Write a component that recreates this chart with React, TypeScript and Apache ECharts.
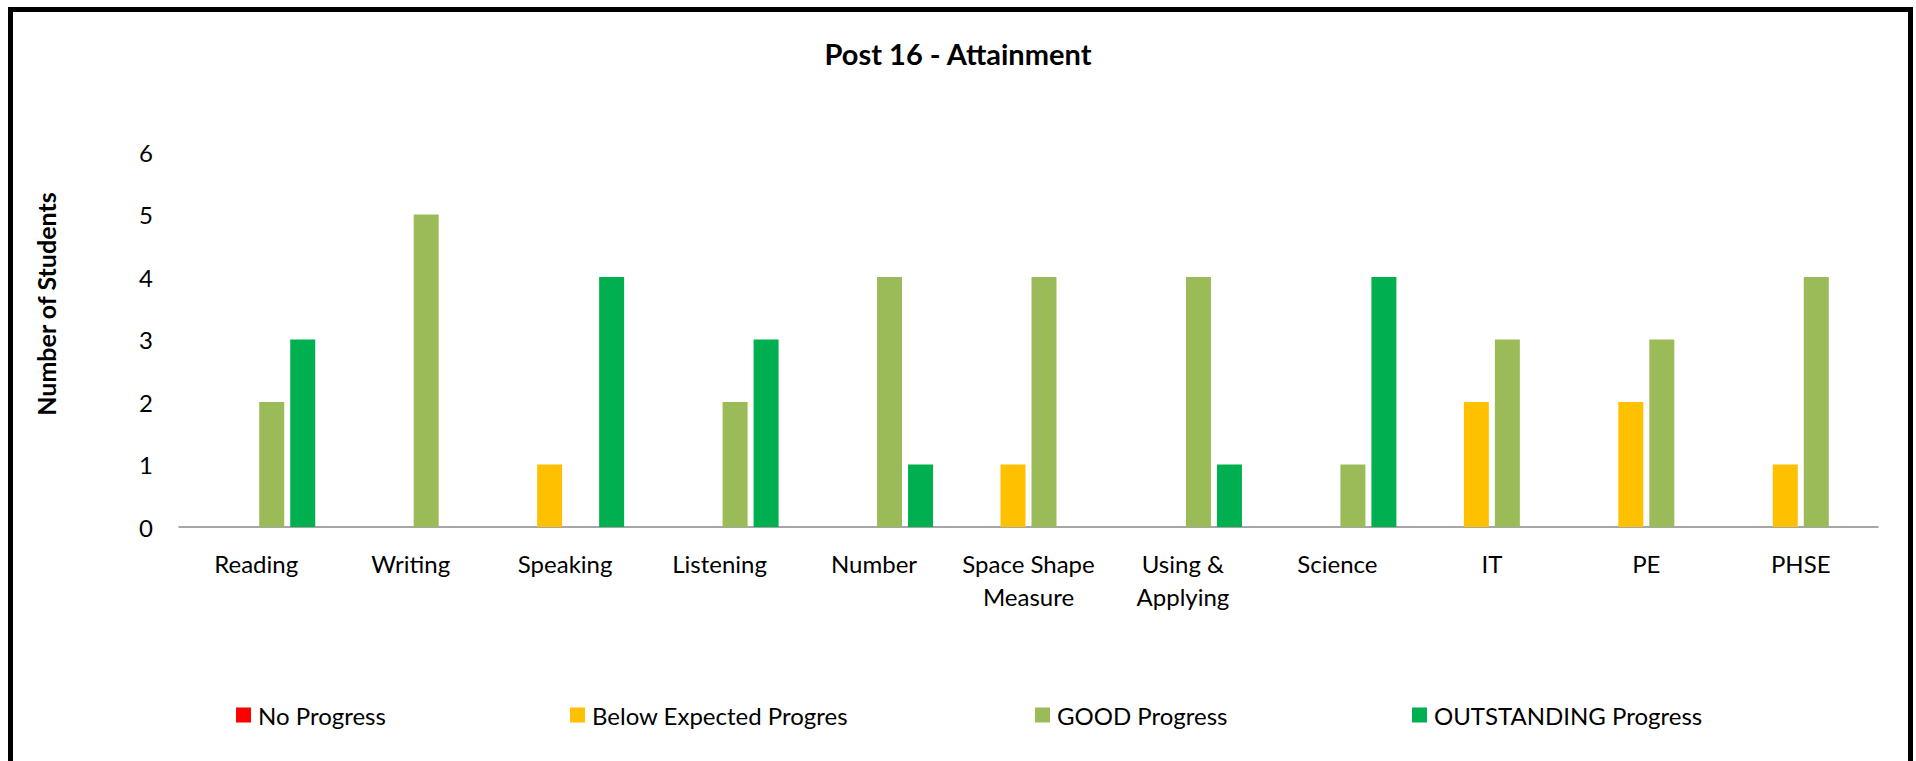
import React, { useEffect, useRef } from "react";
import * as echarts from "echarts";

const categories = [
  "Reading",
  "Writing",
  "Speaking",
  "Listening",
  "Number",
  "Space Shape\nMeasure",
  "Using &\nApplying",
  "Science",
  "IT",
  "PE",
  "PHSE",
];
const seriesNames = [
  "No Progress",
  "Below Expected Progres",
  "GOOD Progress",
  "OUTSTANDING Progress",
];
const noProgress = [0, 0, 0, 0, 0, 0, 0, 0, 0, 0, 0];
const belowExpected = [0, 0, 1, 0, 0, 1, 0, 0, 2, 2, 1];
const goodProgress = [2, 5, 0, 2, 4, 4, 4, 1, 3, 3, 4];
const outstanding = [3, 0, 4, 3, 1, 0, 1, 4, 0, 0, 0];
const colors = ["#FF0000", "#FFC000", "#9BBB59", "#00B050"];
const legendLefts = [236, 570, 1035, 1412];
const yAxisTitle = "Number of Students";

const FONT = "Lato, 'Liberation Sans', sans-serif";

export default function App() {
  const ref = useRef<HTMLDivElement>(null);
  useEffect(() => {
    if (!ref.current) return;
    const chart = echarts.init(ref.current, undefined, { renderer: "svg" });
    const values = [noProgress, belowExpected, goodProgress, outstanding];
    chart.setOption({
      animation: false,
      backgroundColor: "#ffffff",
      textStyle: { fontFamily: FONT, color: "#000" },
      title: {
        text: "Post 16 - Attainment",
        left: "center",
        top: 32,
        textStyle: {
          fontFamily: FONT,
          fontWeight: "bold",
          fontSize: 29,
          lineHeight: 32,
          color: "#000",
        },
      },
      legend: seriesNames.map((n, i) => ({
        data: [n],
        left: legendLefts[i],
        top: 700,
        padding: 0,
        icon: "rect",
        itemWidth: 15,
        itemHeight: 15,
        itemGap: 0,
        selectedMode: false,
        textStyle: {
          fontFamily: FONT,
          fontSize: 24,
          lineHeight: 30,
          color: "#000",
          padding: [0, 0, 0, 2],
        },
      })),
      grid: { left: 179, right: 38, top: 152, bottom: 234, containLabel: false },
      xAxis: {
        type: "category",
        data: categories,
        axisLine: { lineStyle: { color: "#898989", width: 1.5 } },
        axisTick: { show: false },
        axisLabel: {
          interval: 0,
          margin: 20,
          fontFamily: FONT,
          fontSize: 24,
          lineHeight: 33,
          color: "#000",
        },
      },
      yAxis: {
        type: "value",
        min: 0,
        max: 6,
        interval: 1,
        axisLine: { show: false },
        axisTick: { show: false },
        splitLine: { show: false },
        axisLabel: {
          margin: 26,
          fontFamily: FONT,
          fontSize: 24,
          color: "#000",
        },
      },
      series: seriesNames.map((n, i) => ({
        name: n,
        type: "bar",
        data: values[i],
        barWidth: 25,
        barGap: "24%",
        itemStyle: { color: colors[i] },
      })),
      graphic: [
        {
          type: "text",
          x: 46,
          y: 304,
          rotation: Math.PI / 2,
          silent: true,
          style: {
            text: yAxisTitle,
            fontFamily: FONT,
            fontWeight: "bold",
            fontSize: 25,
            fill: "#000",
            align: "center",
            verticalAlign: "middle",
          },
        },
        {
          type: "rect",
          shape: { x: 10.5, y: 9.5, width: 1900, height: 800 },
          style: { fill: "none", stroke: "#000", lineWidth: 5 },
          silent: true,
          z: 100,
        },
      ],
    });
    return () => chart.dispose();
  }, []);
  return (
    <div
      ref={ref}
      style={{ position: "absolute", left: 0, top: 0, width: 1916, height: 761 }}
    />
  );
}
